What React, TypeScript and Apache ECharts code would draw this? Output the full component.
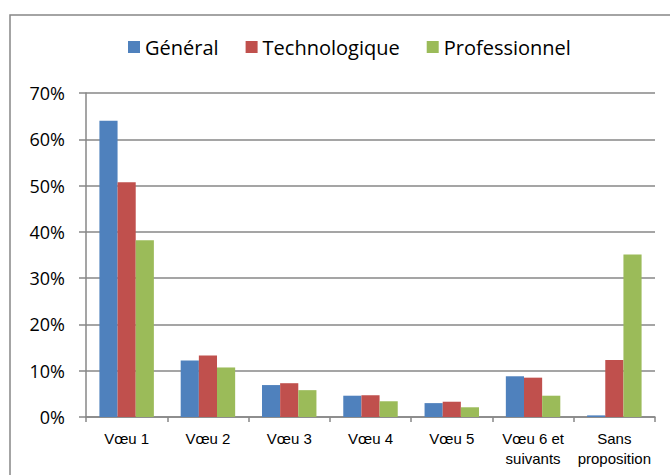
import React, { useEffect, useRef } from "react";
import * as echarts from "echarts";

const categories = ["Vœu 1", "Vœu 2", "Vœu 3", "Vœu 4", "Vœu 5", "Vœu 6 et\nsuivants", "Sans\nproposition"];
const general = [64.0, 12.2, 6.9, 4.6, 3.0, 8.8, 0.35];
const technologique = [50.7, 13.3, 7.3, 4.7, 3.3, 8.5, 12.3];
const professionnel = [38.2, 10.7, 5.8, 3.4, 2.1, 4.6, 35.1];
const seriesNames = ["Général", "Technologique", "Professionnel"];
const colors = ["#4F81BD", "#C0504D", "#9BBB59"];

export default function App() {
  const ref = useRef<HTMLDivElement>(null);
  useEffect(() => {
    if (!ref.current) return;
    const chart = echarts.init(ref.current, undefined, { renderer: "svg" });
    const grey = "#878787";
    const data = [general, technologique, professionnel];
    chart.setOption({
      animation: false,
      backgroundColor: "#ffffff",
      graphic: [
        {
          type: "rect",
          shape: { x: 10, y: 15, width: 700, height: 500 },
          style: { fill: "none", stroke: grey, lineWidth: 1.5 },
          z: -1,
        },
      ],
      legend: {
        data: seriesNames,
        top: 32,
        left: 123,
        itemWidth: 12,
        itemHeight: 12,
        itemGap: 27,
        icon: "rect",
        textStyle: { fontFamily: "Open Sans", fontSize: 20, color: "#000" },
      },
      grid: { left: 86, right: 15, top: 93, bottom: 58 },
      xAxis: {
        type: "category",
        data: categories,
        axisLine: { lineStyle: { color: grey, width: 1.5 } },
        axisTick: { show: true, length: 5, lineStyle: { color: grey, width: 1.5 } },
        axisLabel: {
          color: "#000",
          fontFamily: "Liberation Sans, Arial",
          fontSize: 15,
          lineHeight: 20,
          margin: 11,
          interval: 0,
        },
      },
      yAxis: {
        type: "value",
        min: 0,
        max: 70,
        interval: 10,
        axisLine: { show: true, lineStyle: { color: grey, width: 1.5 } },
        axisTick: { show: true, length: 7, lineStyle: { color: grey, width: 1.5 } },
        splitLine: { lineStyle: { color: grey, width: 1.5 } },
        axisLabel: {
          formatter: "{value}%",
          color: "#000",
          fontFamily: "Open Sans",
          fontSize: 18,
          margin: 21,
        },
      },
      series: seriesNames.map((name, i) => ({
        name,
        type: "bar",
        data: data[i],
        barGap: "0%",
        barCategoryGap: "33%",
        itemStyle: { color: colors[i] },
      })),
    });
    return () => chart.dispose();
  }, []);
  return (
    <div
      ref={ref}
      style={{ position: "absolute", left: 0, top: 0, width: 670, height: 475 }}
    />
  );
}
